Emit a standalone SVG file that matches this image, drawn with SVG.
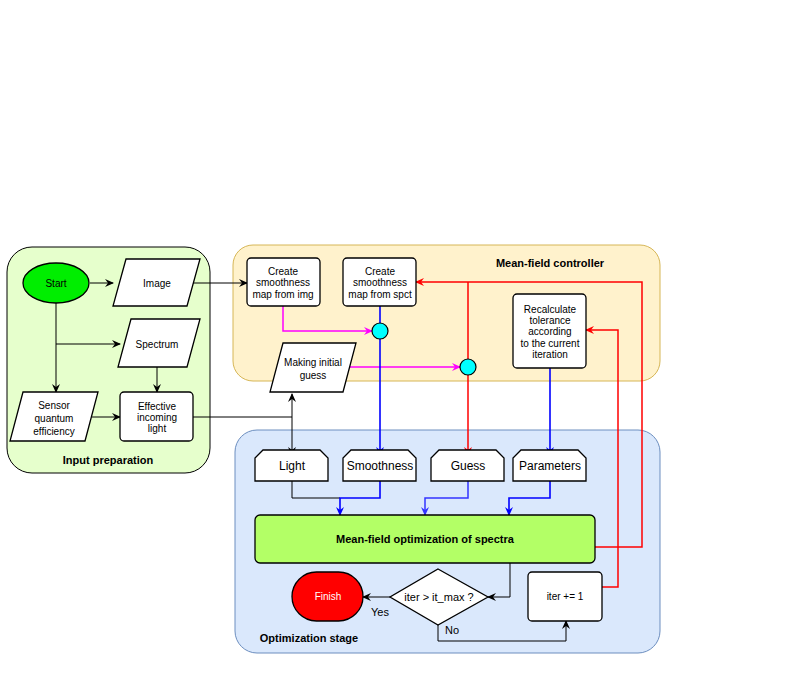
<svg xmlns="http://www.w3.org/2000/svg" width="805" height="685" viewBox="0 0 805 685">
<defs>
<marker id="ak" markerWidth="10" markerHeight="10" refX="8" refY="5" orient="auto" markerUnits="userSpaceOnUse"><path d="M0,1 L9,5 L0,9 L3,5 Z" fill="#000"/></marker>
<marker id="ab" markerWidth="10" markerHeight="10" refX="8" refY="5" orient="auto" markerUnits="userSpaceOnUse"><path d="M0,1 L9,5 L0,9 L3,5 Z" fill="#0000ff"/></marker>
<marker id="al" markerWidth="10" markerHeight="10" refX="8" refY="5" orient="auto" markerUnits="userSpaceOnUse"><path d="M0,1 L9,5 L0,9 L3,5 Z" fill="#3333ff"/></marker>
<marker id="ar" markerWidth="10" markerHeight="10" refX="8" refY="5" orient="auto" markerUnits="userSpaceOnUse"><path d="M0,1 L9,5 L0,9 L3,5 Z" fill="#ff0000"/></marker>
<marker id="am" markerWidth="10" markerHeight="10" refX="8" refY="5" orient="auto" markerUnits="userSpaceOnUse"><path d="M0,1 L9,5 L0,9 L3,5 Z" fill="#ff00ff"/></marker>
<marker id="aks" markerWidth="10" markerHeight="10" refX="2" refY="5" orient="auto" markerUnits="userSpaceOnUse"><path d="M10,1 L1,5 L10,9 L7,5 Z" fill="#000"/></marker>
</defs>
<style>
text{font-family:"Liberation Sans",Arial,sans-serif;font-size:10px;fill:#000;text-anchor:middle}
.t{font-size:12px}
.b{font-weight:bold;font-size:11px}
.n{fill:#fff;stroke:#000;stroke-width:1.3}
.k{fill:none;stroke:#000;stroke-width:1}
.bl{fill:none;stroke:#0000ff;stroke-width:1.6}
.rd{fill:none;stroke:#ff0000;stroke-width:1.5}
.mg{fill:none;stroke:#ff00ff;stroke-width:1.5}
</style>
<g id="input-preparation"><rect x="7" y="247" width="203" height="226" rx="25" fill="#e6ffcc" stroke="#000"/><text class="b" x="108" y="464">Input preparation</text></g>
<g id="controller"><rect x="233" y="245" width="427" height="136" rx="20" fill="#fff2cc" stroke="#d6b656"/><text class="b" x="550" y="267">Mean-field controller</text></g>
<g id="opt-stage"><rect x="235" y="430" width="425" height="223" rx="22" fill="#dae8fc" stroke="#6c8ebf"/><text class="b" x="309" y="642">Optimization stage</text></g>

<g id="connectors">
<path class="k" d="M90,283 H113" marker-end="url(#ak)"/>
<path class="k" d="M56,303 V392" marker-end="url(#ak)"/>
<path class="k" d="M56,344 H120" marker-end="url(#ak)"/>
<path class="k" d="M157,367 V392" marker-end="url(#ak)"/>
<path class="k" d="M92,417 H120" marker-end="url(#ak)"/>
<path class="k" d="M193,283 H247" marker-end="url(#ak)"/>
<path class="k" d="M193,417 H292"/>
<path class="k" d="M292,394 V455" marker-start="url(#aks)" marker-end="url(#ak)"/>
<path class="mg" d="M283,306 V331 H372" marker-end="url(#am)"/>
<path class="mg" d="M350,367 H460" marker-end="url(#am)"/>
<path class="bl" d="M380,306 V455" marker-end="url(#ab)"/>
<path class="rd" d="M468,375 V455" marker-end="url(#ar)"/>
<path class="rd" d="M468,359 V282"/>
<path class="rd" d="M595,547 H642 V282 H416" marker-end="url(#ar)"/>
<path class="rd" d="M602,587 H618 V330 H586" marker-end="url(#ar)"/>
<path class="bl" d="M550,368 V455" marker-end="url(#ab)"/>
<path class="k" d="M292,481 V498 H340"/>
<path class="bl" d="M380,481 V498 H340 V515" marker-end="url(#ab)"/>
<path fill="none" stroke="#3333ff" stroke-width="1.5" d="M468,481 V498 H425 V515" marker-end="url(#al)"/>
<path class="bl" d="M550,481 V498 H509 V515" marker-end="url(#ab)"/>
<path class="k" d="M510,563 V597 H488" marker-end="url(#ak)"/>
<path class="k" d="M390,597 H363" marker-end="url(#ak)"/>
<path class="k" d="M438,625 V641 H566 V621" marker-end="url(#ak)"/>
<text x="380" y="616" class="t" style="font-size:11px">Yes</text>
<text x="452" y="634" style="font-size:11px">No</text>
</g>

<g id="start"><ellipse cx="56" cy="283" rx="33" ry="20" fill="#00ee00" stroke="#000" stroke-width="1.3"/><text x="56" y="287">Start</text></g>
<g id="image"><path class="n" d="M126,259 H200 L187,306 H113 Z"/><text x="157" y="287">Image</text></g>
<g id="spectrum"><path class="n" d="M131,319 H200 L187,367 H118 Z"/><text x="157" y="348">Spectrum</text></g>
<g id="sensor"><path class="n" d="M23,392 H98 L85,441 H10 Z"/><text x="54" y="409">Sensor</text><text x="54" y="422">quantum</text><text x="54" y="435">efficiency</text></g>
<g id="effective"><rect class="n" x="120" y="392" width="73" height="49" rx="4"/><text x="157" y="410">Effective</text><text x="157" y="421">incoming</text><text x="157" y="432">light</text></g>
<g id="create-img"><rect class="n" x="247" y="258" width="73" height="48" rx="4"/><text x="283" y="275">Create</text><text x="283" y="286">smoothness</text><text x="283" y="298">map from img</text></g>
<g id="create-spct"><rect class="n" x="343" y="258" width="73" height="48" rx="4"/><text x="380" y="275">Create</text><text x="380" y="286">smoothness</text><text x="380" y="298">map from spct</text></g>
<g id="merge1"><circle cx="380" cy="331" r="8" fill="#00ffff" stroke="#000" stroke-width="1.2"/></g>
<g id="guess-make"><path class="n" d="M283,343 H356 L343,392 H270 Z"/><text x="313" y="366">Making initial</text><text x="313" y="379">guess</text></g>
<g id="merge2"><circle cx="468" cy="367" r="8" fill="#00ffff" stroke="#000" stroke-width="1.2"/></g>
<g id="recalc"><rect class="n" x="513" y="294" width="73" height="74" rx="4"/><text x="550" y="313">Recalculate</text><text x="550" y="324">tolerance</text><text x="550" y="335">according</text><text x="550" y="347">to the current</text><text x="550" y="358">iteration</text></g>
<g id="light"><path class="n" d="M263,450 H320 L328,458 V481 H255 V458 Z"/><text class="t" x="292" y="470">Light</text></g>
<g id="smoothness"><path class="n" d="M351,450 H408 L416,458 V481 H343 V458 Z"/><text class="t" x="380" y="470">Smoothness</text></g>
<g id="guess"><path class="n" d="M439,450 H496 L504,458 V481 H431 V458 Z"/><text class="t" x="468" y="470">Guess</text></g>
<g id="parameters"><path class="n" d="M521,450 H578 L586,458 V481 H513 V458 Z"/><text class="t" x="550" y="470">Parameters</text></g>
<g id="mean-field"><rect x="255" y="515" width="340" height="48" rx="5" fill="#b3ff66" stroke="#000" stroke-width="1.3"/><text class="b" x="425" y="543">Mean-field optimization of spectra</text></g>
<g id="decision"><path class="n" d="M438,569 L488,597 L438,625 L390,597 Z"/><text x="439" y="601" style="font-size:11px">iter &gt; it_max ?</text></g>
<g id="finish"><rect x="292" y="572" width="71" height="49" rx="24.5" fill="#ff0000" stroke="#000" stroke-width="1.3"/><text x="328" y="600" style="fill:#fff">Finish</text></g>
<g id="iter"><rect class="n" x="528" y="572" width="74" height="49" rx="4"/><text x="565" y="600">iter += 1</text></g>
</svg>
